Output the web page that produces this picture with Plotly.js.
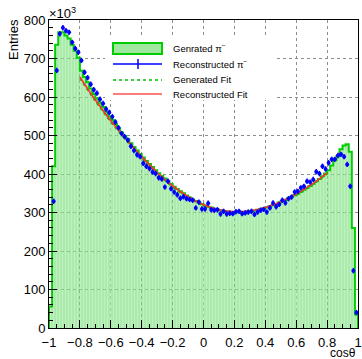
<!DOCTYPE html>
<html>
<head>
<meta charset="utf-8">
<script src="https://cdn.plot.ly/plotly-3.0.1.min.js"></script>
<style>html,body{margin:0;padding:0;background:#fff;}#chart{width:362px;height:359px;}</style>
</head>
<body>
<div id="chart"></div>
<script>
// Histogram binning (cos theta from -1 to 1, 100 bins)
const X_MIN = -1, X_MAX = 1, N_BINS = 100;

// Generated pi- histogram (entries / 10^3)
const generatedCounts = [
  56, 420, 736, 768, 768, 760, 752, 736, 720, 702,
  668, 652, 638, 622, 608, 596, 585, 574, 562, 550,
  540, 530, 519, 508, 498, 490, 480, 470, 461, 452,
  443, 434, 426, 418, 410, 402, 395, 388, 381, 374,
  367, 361, 355, 350, 344, 339, 334, 330, 326, 322,
  318, 315, 313, 310, 308, 306, 304, 303, 302, 301,
  301, 301, 302, 302, 303, 304, 305, 307, 309, 311,
  313, 316, 319, 322, 326, 329, 333, 337, 341, 345,
  349, 354, 359, 364, 369, 375, 381, 387, 394, 401,
  410, 422, 436, 446, 464, 474, 477, 458, 260, 35
];

// Reconstructed pi- points (entries / 10^3)
const reconstructedCounts = [
  null, 329, 669, 764, 780, 772, 768, 742, 726, 716,
  695, 664, 650, 633, 619, 610, 594, 583, 569, 560,
  549, 535, 520, 505, 497, 488, 472, 461, 450, 445,
  428, 420, 414, 405, 401, 390, 387, 366, 381, 362,
  353, 346, 337, 341, 336, 334, 332, 312, 327, 309,
  309, 324, 307, 306, 307, 296, 303, 296, 298, 297,
  302, 303, 297, 299, 301, 303, 295, 301, 306, 308,
  301, 312, 325, 315, 321, 332, 325, 336, 340, 353,
  355, 364, 368, 381, 379, 386, 406, 401, 420, 413,
  429, 438, 438, 448, 451, 445, 425, 368, 149, 40
];
const reconstructedErr = 7;

// Fit curves
const fitX = [-0.8, -0.7, -0.6, -0.5, -0.4, -0.3, -0.2, -0.1, 0, 0.1, 0.2, 0.3, 0.4, 0.5, 0.6, 0.7, 0.8];
const generatedFit =     [649, 590, 536, 488, 443, 402, 367, 339, 318, 305, 300, 302, 311, 326, 346, 371, 401];
const reconstructedFit = [652, 592, 538, 490, 445, 404, 369, 341, 320, 307, 302, 304, 313, 328, 348, 373, 403];

// Tick values
const xTicks = [-1, -0.8, -0.6, -0.4, -0.2, 0, 0.2, 0.4, 0.6, 0.8, 1];
const yTicks = [0, 100, 200, 300, 400, 500, 600, 700, 800];

// Legend labels
const legendLabels = ['Genrated π<sup>−</sup>', 'Reconstructed π<sup>−</sup>', 'Generated Fit', 'Reconstructed Fit'];

// ---- derived ----
const binW = (X_MAX - X_MIN) / N_BINS;
const centers = generatedCounts.map((_, i) => X_MIN + binW * (i + 0.5));
const stepX = [X_MIN], stepY = [0];
generatedCounts.forEach((v, i) => {
  const lo = X_MIN + binW * i, hi = lo + binW;
  stepX.push(lo, hi); stepY.push(v, v);
});
stepX.push(X_MAX); stepY.push(0);

const GREEN = 'rgb(0,205,0)';
const FONT = 'Liberation Sans, Arial, Helvetica, sans-serif';

const traces = [
  {
    type: 'bar', x: centers, y: generatedCounts, width: binW,
    marker: {
      color: 'rgba(120,222,120,0.62)', line: {width: 0},
      pattern: {shape: '|', fillmode: 'overlay', fgcolor: 'rgba(255,255,255,0.55)', size: 3, solidity: 0.3}
    },
    hoverinfo: 'skip', showlegend: false
  },
  {
    type: 'scatter', mode: 'lines', x: stepX, y: stepY,
    line: {color: GREEN, width: 2}, hoverinfo: 'skip', showlegend: false
  },
  {
    type: 'scatter', mode: 'lines', x: fitX, y: generatedFit,
    line: {color: 'rgb(0,190,0)', width: 2, dash: 'dot', shape: 'spline'}, showlegend: false
  },
  {
    type: 'scatter', mode: 'lines', x: fitX, y: reconstructedFit,
    line: {color: 'rgb(255,50,50)', width: 1.6, shape: 'spline'}, showlegend: false
  },
  {
    type: 'scatter', mode: 'markers', x: centers, y: reconstructedCounts,
    marker: {color: 'rgb(0,0,255)', size: 4},
    error_y: {type: 'constant', value: reconstructedErr, width: 0, thickness: 1.5, color: 'rgb(0,0,255)'},
    showlegend: false
  }
];

// plot area in px: x 49..358, y 20..328
const PL = 49, PR = 358, PT = 20, PB = 328;
const px = v => (v - PL) / (PR - PL);
const py = v => (PB - v) / (PB - PT);

const shapes = [
  {type: 'rect', xref: 'paper', yref: 'paper', x0: px(105), x1: px(275), y0: py(100), y1: py(35),
   fillcolor: 'white', line: {width: 0}, layer: 'above'},
  {type: 'rect', xref: 'paper', yref: 'paper', x0: px(113), x1: px(162), y0: py(54), y1: py(43),
   fillcolor: 'rgb(160,232,160)', line: {color: GREEN, width: 2}, layer: 'above'},
  {type: 'line', xref: 'paper', yref: 'paper', x0: px(113), x1: px(162), y0: py(64), y1: py(64),
   line: {color: 'rgb(0,0,255)', width: 1.5}, layer: 'above'},
  {type: 'line', xref: 'paper', yref: 'paper', x0: px(138), x1: px(138), y0: py(69), y1: py(59),
   line: {color: 'rgb(0,0,255)', width: 1.5}, layer: 'above'},
  {type: 'line', xref: 'paper', yref: 'paper', x0: px(113), x1: px(162), y0: py(80), y1: py(80),
   line: {color: 'rgb(0,190,0)', width: 1.5, dash: 'dot'}, layer: 'above'},
  {type: 'line', xref: 'paper', yref: 'paper', x0: px(113), x1: px(162), y0: py(94), y1: py(94),
   line: {color: 'rgb(255,80,80)', width: 1.5}, layer: 'above'}
];

const legendY = [48, 64, 80, 94];
const annotations = legendLabels.map((t, i) => ({
  text: t, xref: 'paper', yref: 'paper', x: px(171), y: py(legendY[i]),
  xanchor: 'left', yanchor: 'middle', showarrow: false, font: {family: FONT, size: 9.5, color: '#000'}
}));
annotations.push(
  {text: 'Entries', xref: 'paper', yref: 'paper', x: px(13), y: py(40), textangle: -90,
   xanchor: 'center', yanchor: 'middle', showarrow: false, font: {family: FONT, size: 13, color: '#000'}},
  {text: 'cosθ', xref: 'paper', yref: 'paper', x: 1, y: py(353), yshift: 0,
   xanchor: 'right', yanchor: 'middle', showarrow: false, font: {family: FONT, size: 12, color: '#000'}},
  {text: '×10<sup>3</sup>', xref: 'paper', yref: 'paper', x: px(47), y: py(13),
   xanchor: 'left', yanchor: 'middle', showarrow: false, font: {family: FONT, size: 13, color: '#000'}}
);

const axisCommon = {
  showline: true, linecolor: '#000', linewidth: 1, mirror: true,
  ticks: 'inside', ticklen: 8, tickwidth: 1, tickcolor: '#000',
  showgrid: true, gridcolor: 'rgb(140,140,140)', griddash: 'dot', gridwidth: 1,
  zeroline: false, tickfont: {family: FONT, size: 13, color: '#000'}
};

const layout = {
  width: 362, height: 359,
  margin: {l: PL, r: 362 - PR, t: PT, b: 359 - PB, pad: 0},
  paper_bgcolor: 'white', plot_bgcolor: 'white',
  bargap: 0, showlegend: false,
  xaxis: Object.assign({}, axisCommon, {
    range: [X_MIN, X_MAX], tickvals: xTicks, ticktext: xTicks.map(v => v < 0 ? '−' + Math.abs(v) : String(v)),
    ticklabelstandoff: 2,
    minor: {dtick: 0.05, tick0: -1, ticks: 'inside', ticklen: 4, tickcolor: '#000', showgrid: false}
  }),
  yaxis: Object.assign({}, axisCommon, {
    range: [0, 800], tickvals: yTicks,
    minor: {dtick: 20, tick0: 0, ticks: 'inside', ticklen: 4, tickcolor: '#000', showgrid: false}
  }),
  shapes: shapes, annotations: annotations
};

Plotly.newPlot('chart', traces, layout, {staticPlot: true, displayModeBar: false});
</script>
</body>
</html>
